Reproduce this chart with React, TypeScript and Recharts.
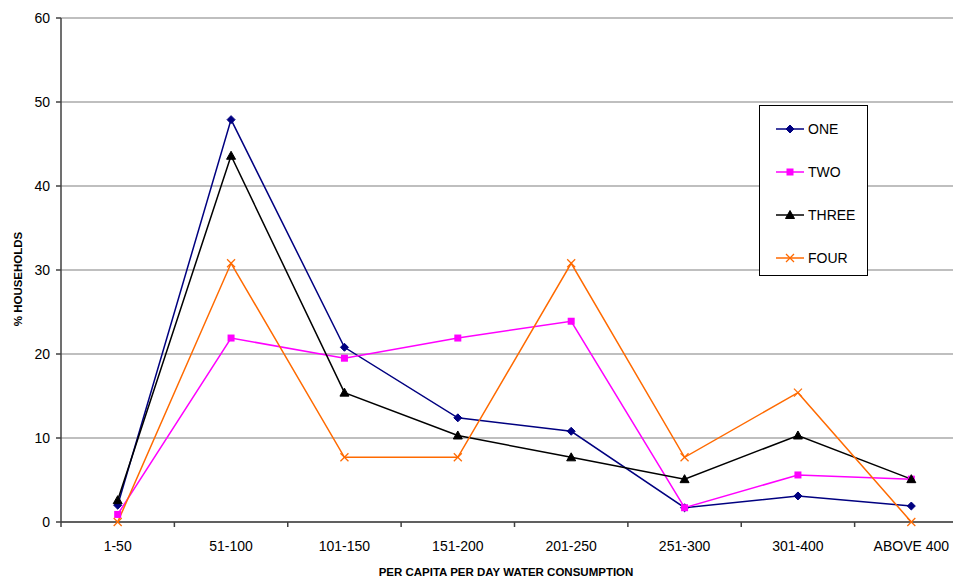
import React from 'react';
import { LineChart, Line, XAxis, YAxis, CartesianGrid } from 'recharts';

const categories = ['1-50', '51-100', '101-150', '151-200', '201-250', '251-300', '301-400', 'ABOVE 400'];
const one = [2.0, 47.9, 20.8, 12.4, 10.8, 1.7, 3.1, 1.9];
const two = [0.9, 21.9, 19.5, 21.9, 23.9, 1.7, 5.6, 5.1];
const three = [2.6, 43.6, 15.4, 10.3, 7.7, 5.1, 10.3, 5.1];
const four = [0, 30.8, 7.7, 7.7, 30.8, 7.7, 15.4, 0];
const yTicks = [0, 10, 20, 30, 40, 50, 60];

const data = categories.map((c, i) => ({
  cat: c,
  one: one[i],
  two: two[i],
  three: three[i],
  four: four[i],
}));

const CHART_W = 975;
const CHART_H = 580;
const MARGIN = { top: 18, right: 7, bottom: 0, left: 0 };
const Y_AXIS_W = 61;
const X_AXIS_H = 58;
const PLOT_W = CHART_W - MARGIN.left - MARGIN.right - Y_AXIS_W;
const BAND = PLOT_W / categories.length;

const FONT = '"Liberation Sans", Arial, sans-serif';

type Shape = 'diamond' | 'square' | 'triangle' | 'cross';

const series: { key: string; name: string; color: string; shape: Shape }[] = [
  { key: 'one', name: 'ONE', color: '#000080', shape: 'diamond' },
  { key: 'two', name: 'TWO', color: '#FF00FF', shape: 'square' },
  { key: 'three', name: 'THREE', color: '#000000', shape: 'triangle' },
  { key: 'four', name: 'FOUR', color: '#FF6A00', shape: 'cross' },
];

function Marker({ cx, cy, shape, color }: { cx: number; cy: number; shape: Shape; color: string }) {
  if (cx == null || cy == null) return null;
  if (shape === 'diamond') {
    return <polygon points={`${cx},${cy - 4} ${cx + 4},${cy} ${cx},${cy + 4} ${cx - 4},${cy}`} fill={color} stroke={color} />;
  }
  if (shape === 'square') {
    return <rect x={cx - 3.5} y={cy - 3.5} width={7} height={7} fill={color} />;
  }
  if (shape === 'triangle') {
    return <polygon points={`${cx},${cy - 4.5} ${cx + 4.5},${cy + 3.5} ${cx - 4.5},${cy + 3.5}`} fill={color} stroke={color} />;
  }
  return (
    <g stroke={color} strokeWidth={1.3}>
      <line x1={cx - 4} y1={cy - 4} x2={cx + 4} y2={cy + 4} />
      <line x1={cx - 4} y1={cy + 4} x2={cx + 4} y2={cy - 4} />
    </g>
  );
}

const makeDot = (shape: Shape, color: string) => (props: any) => (
  <Marker key={`${shape}-${props.index}`} cx={props.cx} cy={props.cy} shape={shape} color={color} />
);

// category labels centred in each band, tick marks on the band edges
const XTick = (props: any) => {
  const { x, y, payload, index } = props;
  const left = x - BAND / 2;
  return (
    <g>
      <line x1={left} y1={y} x2={left} y2={y + 5} stroke="#404040" strokeWidth={1.5} />
      {index === categories.length - 1 && (
        <line x1={x + BAND / 2} y1={y} x2={x + BAND / 2} y2={y + 5} stroke="#404040" strokeWidth={1.5} />
      )}
      <text x={x} y={y + 29} textAnchor="middle" fontSize={14} fontFamily={FONT} fill="#000">
        {payload.value}
      </text>
    </g>
  );
};

const XTitle = (props: any) => {
  const { viewBox } = props;
  return (
    <text x={506} y={viewBox.y + 54} textAnchor="middle" fontSize={11.5} fontWeight="bold" fontFamily={FONT} fill="#000">
      PER CAPITA PER DAY WATER CONSUMPTION
    </text>
  );
};

const YTitle = (props: any) => {
  const { viewBox } = props;
  const cx = 22;
  const cy = viewBox.y + viewBox.height / 2 + 9;
  return (
    <text
      x={cx}
      y={cy}
      transform={`rotate(-90 ${cx} ${cy})`}
      textAnchor="middle"
      fontSize={11.5}
      fontWeight="bold"
      fontFamily={FONT}
      fill="#000"
    >
      % HOUSEHOLDS
    </text>
  );
};

const LegendBox = () => (
  <div
    style={{
      position: 'absolute',
      left: 759,
      top: 105,
      width: 107,
      height: 169,
      border: '1px solid #000',
      background: '#fff',
      fontFamily: FONT,
      fontSize: 14,
    }}
  >
    {series.map((s, i) => (
      <div key={s.key} style={{ position: 'absolute', left: 0, top: 23 + i * 43 - 10, height: 20, width: 107 }}>
        <svg width={46} height={20} style={{ position: 'absolute', left: 14, top: 0 }}>
          <line x1={2} y1={10} x2={30} y2={10} stroke={s.color} strokeWidth={1.5} />
          <Marker cx={16} cy={10} shape={s.shape} color={s.color} />
        </svg>
        <span style={{ position: 'absolute', left: 48, top: 2, color: '#000', lineHeight: '16px' }}>{s.name}</span>
      </div>
    ))}
  </div>
);

export default function App() {
  return (
    <div style={{ position: 'fixed', left: 0, top: 0, width: 953, height: 580, overflow: 'hidden', background: '#fff' }}>
      <LineChart width={CHART_W} height={CHART_H} data={data} margin={MARGIN}>
        <CartesianGrid vertical={false} stroke="#808080" strokeWidth={1.2} />
        <XAxis
          dataKey="cat"
          height={X_AXIS_H}
          padding={{ left: BAND / 2, right: BAND / 2 }}
          axisLine={{ stroke: '#404040', strokeWidth: 1.5 }}
          tickLine={false}
          tickSize={0}
          tickMargin={0}
          tick={<XTick />}
          interval={0}
          label={<XTitle />}
        />
        <YAxis
          width={Y_AXIS_W}
          domain={[0, 60]}
          ticks={yTicks}
          axisLine={{ stroke: '#404040', strokeWidth: 1.5 }}
          tickLine={{ stroke: '#404040', strokeWidth: 1.5 }}
          tickSize={5}
          tickMargin={6}
          tick={{ fontFamily: FONT, fontSize: 14, fill: '#000' }}
          label={<YTitle />}
        />
        {series.map((s) => (
          <Line
            key={s.key}
            type="linear"
            dataKey={s.key}
            name={s.name}
            stroke={s.color}
            strokeWidth={1.5}
            dot={makeDot(s.shape, s.color)}
            activeDot={false}
            isAnimationActive={false}
          />
        ))}
      </LineChart>
      <LegendBox />
    </div>
  );
}
